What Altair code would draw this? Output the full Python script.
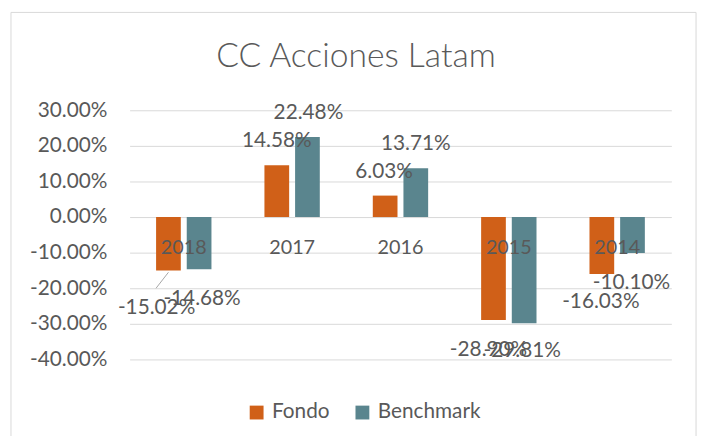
import altair as alt
import pandas as pd

categories = ["2018", "2017", "2016", "2015", "2014"]
series = ["Fondo", "Benchmark"]
fondo = [-15.02, 14.58, 6.03, -28.90, -16.03]
benchmark = [-14.68, 22.48, 13.71, -29.81, -10.10]
colors = ["#D06018", "#5A858E"]
title_text = "CC Acciones Latam"
y_ticks = [-0.4, -0.3, -0.2, -0.1, 0, 0.1, 0.2, 0.3]

rows = []
for c, f, b in zip(categories, fondo, benchmark):
    rows.append({"year": c, "serie": "Fondo", "value": f / 100})
    rows.append({"year": c, "serie": "Benchmark", "value": b / 100})
df = pd.DataFrame(rows)

# label nudges (pixels) as the labels were placed in the original chart
nudges = {
    ("2018", "Fondo"): (-12, 38), ("2018", "Benchmark"): (3, 30),
    ("2017", "Fondo"): (0, -24), ("2017", "Benchmark"): (1, -24),
    ("2016", "Fondo"): (-1, -24), ("2016", "Benchmark"): (0, -24),
    ("2015", "Fondo"): (-5, 31), ("2015", "Benchmark"): (-2, 28),
    ("2014", "Fondo"): (-1, 28), ("2014", "Benchmark"): (-1, 30),
}
# label that was dragged away and got a leader line
leader_for = ("2018", "Fondo")

FONT = "Lato"
FS = 21
TXT = "#595959"
GRID = "#D9D9D9"
PCT = "replace(format(datum.value, '.2%'), '\u2212', '-')"

x_enc = alt.X("year:N", sort=categories,
              scale=alt.Scale(paddingInner=0.489, paddingOuter=0.2445),
              axis=alt.Axis(title=None, orient="bottom", offset=-125, domain=False,
                            ticks=False, labelAngle=0, labelFontSize=20, labelFont=FONT,
                            labelColor=TXT, labelPadding=2, zindex=1))
xoff = alt.XOffset("serie:N", sort=series,
                   scale=alt.Scale(paddingInner=0.194, paddingOuter=0))
y_enc = alt.Y("value:Q", scale=alt.Scale(domain=[-0.4, 0.3], nice=False),
              axis=alt.Axis(title=None, values=y_ticks,
                            labelExpr=PCT, labelOverlap=False, domain=False, ticks=False,
                            labelFontSize=FS, labelFont=FONT, labelColor=TXT,
                            labelPadding=23, gridColor=GRID, gridWidth=1))

base = alt.Chart(df)

bars = base.mark_bar().encode(
    x=x_enc, xOffset=xoff, y=y_enc,
    color=alt.Color("serie:N", sort=series,
                    scale=alt.Scale(domain=series, range=colors),
                    legend=alt.Legend(title=None, orient="none", direction="horizontal",
                                      legendX=118, legendY=295, symbolType="square",
                                      symbolSize=196, symbolStrokeWidth=0,
                                      labelFontSize=FS, labelFont=FONT, labelColor=TXT,
                                      labelOffset=5, columnPadding=22)),
)

labels = []
for (yr, s), (dx, dy) in nudges.items():
    labels.append(
        base.transform_filter((alt.datum.year == yr) & (alt.datum.serie == s))
        .transform_calculate(lbl=PCT)
        .mark_text(font=FONT, fontSize=FS, color=TXT, align="center",
                   baseline="middle", dx=dx, dy=dy)
        .encode(x=x_enc, xOffset=xoff, y=y_enc, text=alt.Text("lbl:N"))
    )

leader = base.transform_filter(
    (alt.datum.year == leader_for[0]) & (alt.datum.serie == leader_for[1])
).mark_point(shape="M0,0.1L-0.7,1", size=1296, filled=False, stroke="#A6A6A6",
             strokeWidth=1, opacity=1).encode(x=x_enc, xOffset=xoff, y=y_enc)

frame = alt.Chart(alt.Data(values=[{}])).mark_rect(
    fill=None, stroke=GRID, strokeWidth=1, clip=False
).encode(x=alt.value(-120), x2=alt.value(573), y=alt.value(-99), y2=alt.value(360))

title = alt.Chart(alt.Data(values=[{"t": title_text}])).mark_text(
    font=FONT, fontSize=34, fontWeight=300, color=TXT, align="center",
    baseline="middle", clip=False
).encode(x=alt.value(229), y=alt.value(-54), text="t:N")

chart = alt.layer(frame, bars, leader, *labels, title).properties(
    width=548, height=252,
    autosize=alt.AutoSizeParams(type="none"),
    padding={"left": 123, "top": 101, "right": 30, "bottom": 75},
).configure_view(stroke=None)

chart.save("out.html", embed_options={"renderer": "svg", "actions": False})
